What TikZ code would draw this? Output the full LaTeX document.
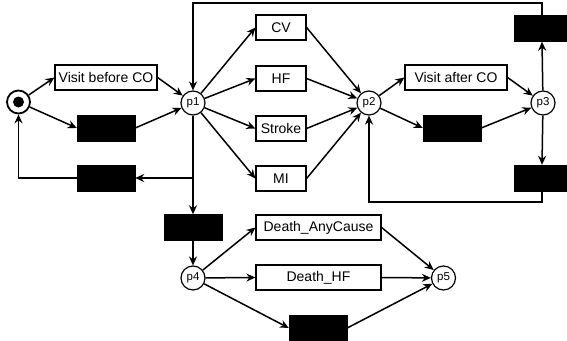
\documentclass[tikz,border=0pt]{standalone}
\usepackage{fontspec}
\setmainfont{Liberation Sans}
\usetikzlibrary{arrows.meta}

\begin{document}
\begin{tikzpicture}[x=1pt,y=-1pt,
  place/.style={draw,circle,line width=1.2pt,minimum size=24pt,inner sep=0pt,font=\fontsize{11.5}{13}\selectfont},
  trans/.style={draw,line width=1.2pt,minimum height=25pt,inner sep=0pt,font=\fontsize{14}{16}\selectfont},
  silent/.style={draw,fill=black,minimum width=58pt,minimum height=26pt,inner sep=0pt},
  arc/.style={line width=1.5pt,-{Stealth[length=9pt,width=8pt,inset=3pt]}}]
\useasboundingbox (0,0) rectangle (567,340);

% places
\node[place,minimum size=23pt,line width=1.8pt] (start) at (18.5,102) {};
\fill (start) circle (5.5);
\node[place] (p1) at (193,103) {p1};
\node[place] (p2) at (369,103) {p2};
\node[place] (p3) at (543,103) {p3};
\node[place] (p4) at (193,278) {p4};
\node[place] (p5) at (443.5,278) {p5};

% before index date
\node[trans,minimum width=102pt] (visitB) at (106,77.5) {Visit before CO};
\node[silent] (tB1) at (106,128) {};
\node[silent] (tB2) at (106,178) {};
\draw[arc] (start) -- (visitB.west);
\draw[arc] (start) -- (tB1.west);
\draw[arc] (visitB.east) -- (p1);
\draw[arc] (tB1.east) -- (p1);
\draw[arc] (p1.south |- tB2) -- (tB2.east);
\draw[arc] (tB2.west) -| (start.south);

% outcomes
\foreach \n/\t/\y in {cv/CV/27.5, hf/HF/78.5, stroke/Stroke/128.5, mi/MI/178.5}{
  \node[trans,minimum width=50pt] (\n) at (281,\y) {\t};
  \draw[arc] (p1) -- (\n.west);
  \draw[arc] (\n.east) -- (p2);
}

% after index date
\node[trans,minimum width=102pt] (visitA) at (456,77.5) {Visit after CO};
\node[silent] (tA) at (452,128) {};
\draw[arc] (p2) -- (visitA.west);
\draw[arc] (p2) -- (tA.west);
\draw[arc] (visitA.east) -- (p3);
\draw[arc] (tA.east) -- (p3);

\node[silent,minimum width=56pt] (tUp) at (542,28.5) {};
\node[silent,minimum width=56pt] (tDown) at (542,178) {};
\coordinate (top) at (0,3);
\coordinate (bot) at (0,202);
\draw[arc] (p3) -- (tUp.south);
\draw[arc] (p3) -- (tDown.north);
\draw[arc] (tUp.north) -- (tUp.north |- top) -| (p1.north);
\draw[arc] (tDown.south) -- (tDown.south |- bot) -| (p2.south);

% death
\node[silent] (tD) at (193,227.5) {};
\node[trans,minimum width=125pt] (dAny) at (318.5,227.5) {Death\_AnyCause};
\node[trans,minimum width=125pt] (dHF) at (318.5,277.5) {Death\_HF};
\node[silent] (tDB) at (318,328) {};
\draw[arc] (p1) -- (tD.north);
\draw[arc] (tD.south) -- (p4);
\foreach \n in {dAny,dHF,tDB}{
  \draw[arc] (p4) -- (\n.west);
  \draw[arc] (\n.east) -- (p5);
}

\end{tikzpicture}
\end{document}
